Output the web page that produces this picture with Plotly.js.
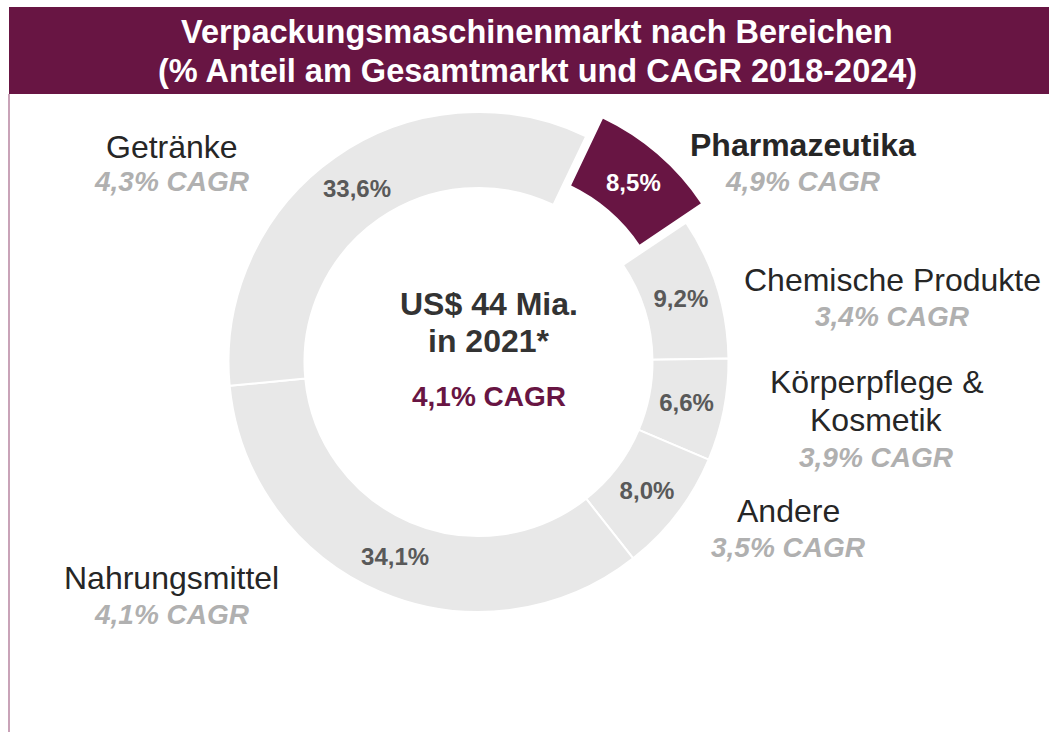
<!DOCTYPE html>
<html>
<head>
<meta charset="utf-8">
<script src="https://cdn.plot.ly/plotly-3.0.1.min.js"></script>
<style>html,body{margin:0;padding:0;background:#fff;}#chart{width:1049px;height:732px;}</style>
</head>
<body>
<div id="chart"></div>
<script>
// Data
const segments = ["Pharmazeutika", "Chemische Produkte", "Körperpflege & Kosmetik", "Andere", "Nahrungsmittel", "Getränke"];
const shares = [8.5, 9.2, 6.6, 8.0, 34.1, 33.6];
const cagr = ["4,9% CAGR", "3,4% CAGR", "3,9% CAGR", "3,5% CAGR", "4,1% CAGR", "4,3% CAGR"];
const labelLines = [["Pharmazeutika"], ["Chemische Produkte"], ["Körperpflege &", "Kosmetik"], ["Andere"], ["Nahrungsmittel"], ["Getränke"]];
const highlighted = "Pharmazeutika";
const titleLines = ["Verpackungsmaschinenmarkt nach Bereichen", "(% Anteil am Gesamtmarkt und CAGR 2018-2024)"];
const centerLines = ["US$ 44 Mia.", "in 2021*"];
const totalCagr = "4,1% CAGR";

const W = 1049, H = 732;
const FONT = "Liberation Sans, Arial, sans-serif";
const MAROON = "#681543";
const px = x => x / W;
const py = y => 1 - y / H;

const fmt = v => v.toFixed(1).replace('.', ',') + '%';

const trace = {
  type: 'pie',
  labels: segments,
  values: shares,
  text: shares.map(fmt),
  textinfo: 'text',
  textposition: 'inside',
  insidetextorientation: 'horizontal',
  sort: false,
  direction: 'clockwise',
  rotation: 25.5,
  hole: 0.696,
  pull: segments.map(s => s === highlighted ? 0.1 : 0),
  marker: {
    colors: segments.map(s => s === highlighted ? MAROON : '#e8e8e8'),
    line: {color: '#ffffff', width: 2}
  },
  textfont: {
    family: FONT, size: 24, weight: 'bold',
    color: segments.map(s => s === highlighted ? '#ffffff' : '#595959')
  },
  hoverinfo: 'none',
  showlegend: false,
  domain: {x: [(478.5 - 275) / W, (478.5 + 275) / W], y: [(H - 362 - 275) / H, (H - 362 + 275) / H]}
};

// Label anchor positions in pixels (layout)
const labelPos = [
  {x: 803, y: [146], cy: 182, bold: true},
  {x: 892, y: [280.5], cy: 317.5},
  {x: 876, y: [383, 421], cy: 458},
  {x: 788, y: [511.5], cy: 548},
  {x: 172, y: [578.5], cy: 615},
  {x: 172, y: [147.5], cy: 183}
];

const annotations = [];
const capOff = -1; // offset from cap center to box center
segments.forEach((s, i) => {
  const p = labelPos[i];
  labelLines[i].forEach((ln, j) => {
    annotations.push({
      xref: 'paper', yref: 'paper', x: px(p.x), y: py(p.y[j] + capOff),
      text: ln, showarrow: false, xanchor: 'center', yanchor: 'middle',
      font: {family: FONT, size: 32, color: '#262626', weight: p.bold ? 'bold' : 'normal'}
    });
  });
  annotations.push({
    xref: 'paper', yref: 'paper', x: px(p.x), y: py(p.cy + capOff),
    text: '<b><i>' + cagr[i] + '</i></b>', showarrow: false, xanchor: 'center', yanchor: 'middle',
    font: {family: FONT, size: 28, color: '#b0b0b0'}
  });
});

// Title
titleLines.forEach((t, i) => {
  annotations.push({
    xref: 'paper', yref: 'paper', x: px(537), y: py([33, 72][i] + capOff),
    text: '<b>' + t + '</b>', showarrow: false, xanchor: 'center', yanchor: 'middle',
    font: {family: FONT, size: 32.5, color: '#ffffff'}
  });
});

// Center
centerLines.forEach((t, i) => {
  annotations.push({
    xref: 'paper', yref: 'paper', x: px(489), y: py([305, 342][i] + capOff),
    text: '<b>' + t + '</b>', showarrow: false, xanchor: 'center', yanchor: 'middle',
    font: {family: FONT, size: 32, color: '#333333'}
  });
});
annotations.push({
  xref: 'paper', yref: 'paper', x: px(488.5), y: py(397.5 + capOff),
  text: '<b>' + totalCagr + '</b>', showarrow: false, xanchor: 'center', yanchor: 'middle',
  font: {family: FONT, size: 28, color: MAROON}
});

const layout = {
  width: W, height: H,
  margin: {l: 0, r: 0, t: 0, b: 0},
  paper_bgcolor: '#ffffff',
  plot_bgcolor: '#ffffff',
  showlegend: false,
  uniformtext: {mode: 'show', minsize: 24},
  shapes: [
    {type: 'rect', xref: 'paper', yref: 'paper', x0: px(9), x1: px(1049), y0: py(94), y1: py(7),
     fillcolor: MAROON, line: {width: 0}, layer: 'below'},
    {type: 'line', xref: 'paper', yref: 'paper', x0: px(9), x1: px(9), y0: py(94), y1: py(732),
     line: {color: '#c9a3b8', width: 2}}
  ],
  annotations: annotations
};

Plotly.newPlot('chart', [trace], layout, {displayModeBar: false, staticPlot: true});
</script>
</body>
</html>
